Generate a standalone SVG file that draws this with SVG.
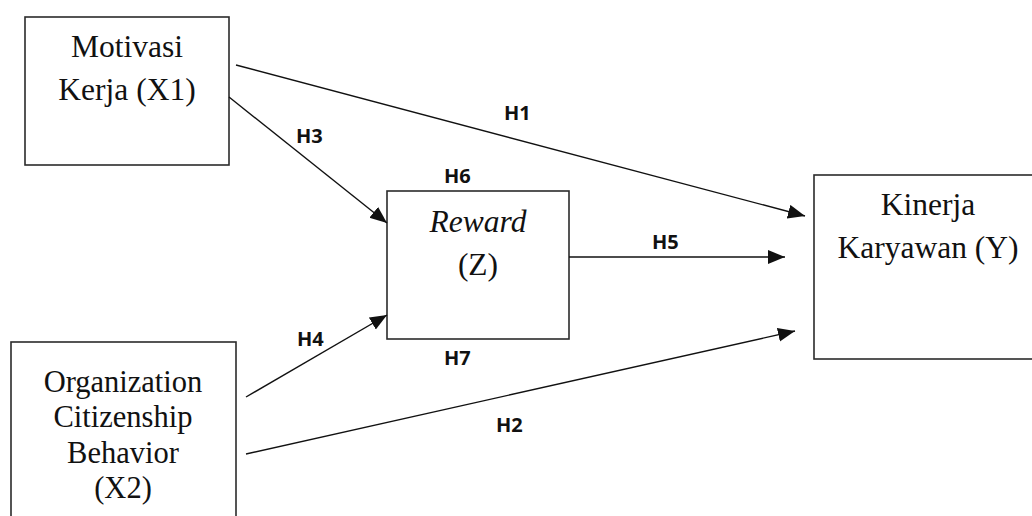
<svg xmlns="http://www.w3.org/2000/svg" width="1032" height="516" viewBox="0 0 1032 516">
  <style>
    .box { fill: #ffffff; stroke: #2b2b2b; stroke-width: 1.6; }
    .node-text { font-size: 31.5px; fill: #111111; text-anchor: middle; }
    .italic { font-style: italic; }
    .link { stroke: #111111; stroke-width: 1.4; fill: none; marker-end: url(#arrow); }
    .hyp { font-weight: 700; font-size: 20px; fill: #111111; }
  </style>
  <defs>
    <marker id="arrow" markerUnits="userSpaceOnUse" markerWidth="18" markerHeight="15" refX="17" refY="7" orient="auto">
      <path d="M0,0 L17,7 L0,14 z" fill="#111111"/>
    </marker>
  </defs>
  <rect width="1032" height="516" fill="#ffffff"/>

  <g id="node-x1" font-family="'Liberation Serif', 'Times New Roman', serif">
    <rect class="box" x="25" y="17" width="204" height="148"/>
    <text class="node-text" x="127" y="57">Motivasi</text>
    <text class="node-text" x="127" y="100">Kerja (X1)</text>
  </g>

  <g id="node-z" font-family="'Liberation Serif', 'Times New Roman', serif">
    <rect class="box" x="387" y="191" width="182" height="148"/>
    <text class="node-text italic" x="478" y="232">Reward</text>
    <text class="node-text" x="478" y="275">(Z)</text>
  </g>

  <g id="node-x2" font-family="'Liberation Serif', 'Times New Roman', serif">
    <rect class="box" x="11" y="342" width="225" height="190"/>
    <text class="node-text" x="123" y="392" style="font-size:30.5px">Organization</text>
    <text class="node-text" x="123" y="427" style="font-size:30.5px">Citizenship</text>
    <text class="node-text" x="123" y="463" style="font-size:30.5px">Behavior</text>
    <text class="node-text" x="123" y="498" style="font-size:30.5px">(X2)</text>
  </g>

  <g id="node-y" font-family="'Liberation Serif', 'Times New Roman', serif">
    <rect class="box" x="814" y="175" width="240" height="184"/>
    <text class="node-text" x="928" y="215">Kinerja</text>
    <text class="node-text" x="928" y="258">Karyawan (Y)</text>
  </g>

  <g id="connectors">
    <line class="link" x1="236" y1="65" x2="805" y2="216"/>
    <line class="link" x1="229" y1="97" x2="387" y2="223"/>
    <line class="link" x1="569" y1="257" x2="785" y2="257"/>
    <line class="link" x1="246" y1="397" x2="387" y2="315"/>
    <line class="link" x1="246" y1="454" x2="795" y2="331"/>
  </g>

  <g id="labels" font-family="'Open Sans', 'Liberation Sans', sans-serif">
    <text class="hyp" x="504" y="120">H1</text>
    <text class="hyp" x="296" y="143">H3</text>
    <text class="hyp" x="444" y="183">H6</text>
    <text class="hyp" x="652" y="249">H5</text>
    <text class="hyp" x="297" y="346">H4</text>
    <text class="hyp" x="444" y="365">H7</text>
    <text class="hyp" x="496" y="432">H2</text>
  </g>
</svg>
